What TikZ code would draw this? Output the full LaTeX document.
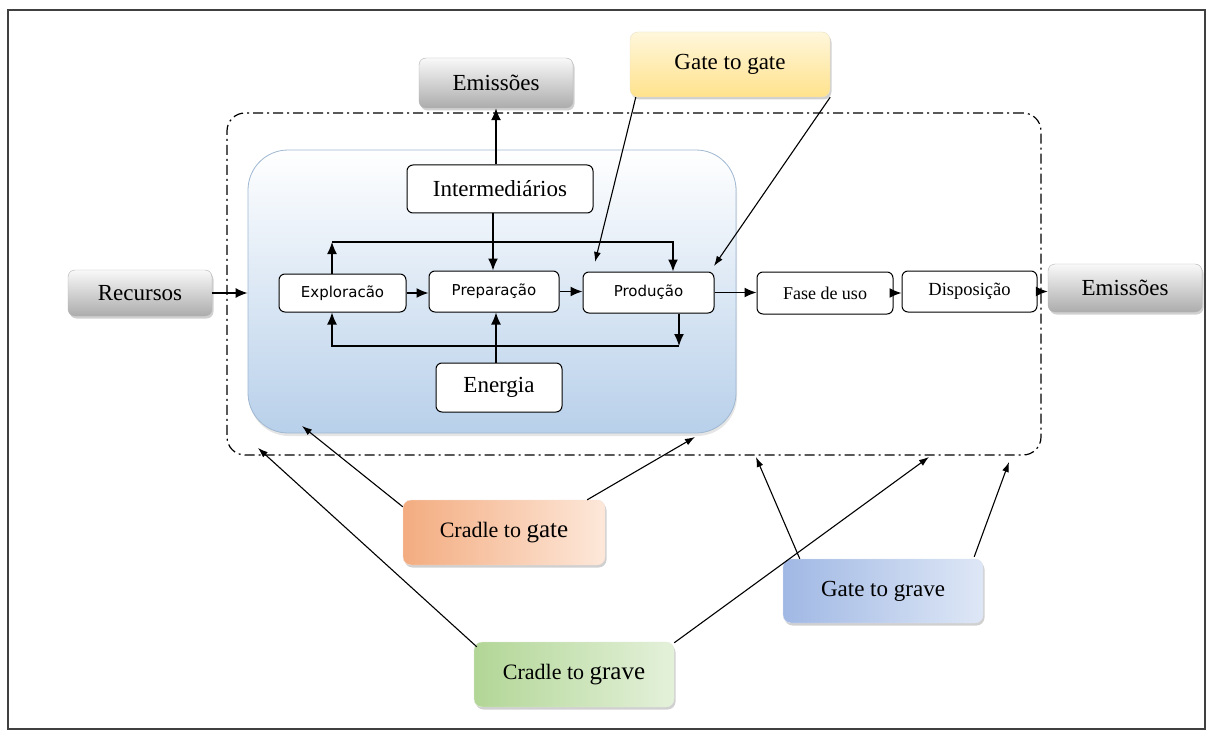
\documentclass[tikz,border=0pt]{standalone}
\usepackage{fontspec}
\setmainfont{Liberation Serif}
\newfontfamily\sansf{DejaVu Sans}
\usetikzlibrary{arrows.meta,shadows,calc}
\definecolor{blueB}{RGB}{184,208,234}
\definecolor{blueEdge}{RGB}{160,184,210}
\definecolor{yelT}{RGB}{255,247,220}
\definecolor{yelB}{RGB}{255,226,140}
\definecolor{oraD}{RGB}{243,172,128}
\definecolor{oraL}{RGB}{253,232,218}
\definecolor{greD}{RGB}{178,214,150}
\definecolor{greL}{RGB}{228,241,218}
\definecolor{bluD}{RGB}{160,184,228}
\definecolor{bluL}{RGB}{222,231,246}
\tikzset{
  big/.style={font=\fontsize{23}{27}\selectfont},
  shad/.style={drop shadow={shadow xshift=1.5pt,shadow yshift=-2.5pt,opacity=0.3,fill=black!60}},
  graybox/.style={draw=gray!60,rounded corners=7pt,top color=gray!5,bottom color=gray!65,shad,big,inner sep=0pt},
  colbox/.style={rounded corners=8pt,shad,big,inner sep=0pt},
  whitebox/.style={draw=black,line width=1pt,rounded corners=6pt,fill=white,inner sep=0pt},
  sbox/.style={whitebox,font=\sansf\fontsize{15}{18}\selectfont},
  conn/.style={line width=1.4pt,-{Latex[length=12pt,width=10pt]}},
  thin/.style={line width=1.1pt,-{Latex[length=10pt,width=7pt]}},
  dashdotbox/.style={line width=1.2pt,dash pattern=on 10pt off 4pt on 2pt off 4pt,rounded corners=18pt}
}
\begin{document}
\begin{tikzpicture}[x=1pt,y=-1pt]
\useasboundingbox (0,0) rectangle (1211,733);
\fill[white] (0,0) rectangle (1211,733);
\draw[line width=1.3pt,black!75] (8,10) rectangle (1205,729);

% system boundary
\node[dashdotbox,draw,minimum width=814pt,minimum height=342pt] (sys) at (634,284) {};
% blue box
\node[draw=blueEdge,line width=0.8pt,rounded corners=40pt,top color=white,bottom color=blueB,
      drop shadow={shadow xshift=1pt,shadow yshift=-3pt,opacity=0.2,fill=black!50},
      minimum width=488pt,minimum height=283pt] (blue) at (492,291.5) {};

% gray boxes
\node[graybox,minimum width=154pt,minimum height=50pt] (emisTop) at (496,83) {Emissões};
\node[graybox,minimum width=144pt,minimum height=46pt] (rec) at (140,293) {Recursos};
\node[graybox,minimum width=154pt,minimum height=48pt] (emisR) at (1125,288) {Emissões};

% coloured boxes
\node[colbox,draw=yelB!80!black!40,top color=yelT,bottom color=yelB,minimum width=200pt,minimum height=65pt] (gg) at (730,64.5) {Gate to gate};
\node[colbox,draw=oraD!90!black!30,left color=oraD,right color=oraL,minimum width=202pt,minimum height=65pt] (cgate) at (504,532.5) {\fontsize{22}{26}\selectfont Cradle to \fontsize{25}{28}\selectfont gate};
\node[colbox,draw=greD!90!black!30,left color=greD,right color=greL,minimum width=200pt,minimum height=65pt] (cgrave) at (574,674.5) {\fontsize{22}{26}\selectfont Cradle to \fontsize{25}{28}\selectfont grave};
\node[colbox,draw=bluD!90!black!30,left color=bluD,right color=bluL,minimum width=200pt,minimum height=64pt] (ggrave) at (883,591) {Gate to grave};

% inner white boxes
\node[whitebox,big,minimum width=186pt,minimum height=48pt] (inter) at (500,189) {Intermediários};
\node[whitebox,big,minimum width=126pt,minimum height=49pt] (ener) at (499,387.5) {Energia};
\node[sbox,minimum width=127pt,minimum height=38pt] (expl) at (342.5,293) {Exploracão};
\node[sbox,minimum width=130pt,minimum height=41pt] (prep) at (494,291.5) {Preparação};
\node[sbox,minimum width=131pt,minimum height=41pt] (prod) at (648.5,292.5) {Produção};
\node[whitebox,font=\fontsize{18}{22}\selectfont,minimum width=136pt,minimum height=42pt] (fase) at (825,293) {Fase de uso};
\node[whitebox,font=\fontsize{18.5}{22}\selectfont,minimum width=135pt,minimum height=41pt] (disp) at (969.5,291.5) {Disposição};

% loop coordinates
\coordinate (tl) at (332,242);
\coordinate (tr) at (673,242);
\coordinate (bl) at (332,346);
\coordinate (br) at (679,346);

% inner connectors
\draw[conn] (inter.north -| emisTop) -- (emisTop.south);
\draw[conn] (inter.south -| 493,0) -- (prep.north -| 493,0);
\draw[conn] (ener.north -| 496,0) -- (prep.south -| 496,0);
\draw[conn] (expl.east) -- (expl.east -| prep.west);
\draw[conn] (prep.east) -- (prep.east -| prod.west);
\draw[conn] (expl.north -| tl) -- (tl);
\draw[conn] (tl) -- (tr) -- (tr |- prod.north);
\draw[conn] (prod.south -| br) -- (br);
\draw[conn] (br) -- (bl) -- (bl |- expl.south);
\draw[conn] (rec.east) -- (rec.east -| blue.west);
\draw[conn] (prod.east) -- (prod.east -| fase.west);
\draw[conn] (fase.east) -- (fase.east -| disp.west);
\draw[conn] (disp.east) -- (disp.east -| emisR.west);

% scope arrows
\coordinate (g1) at (595,262);
\coordinate (g2) at (714,266);
\draw[thin] ([xshift=6pt]gg.south west) -- (g1);
\draw[thin] (gg.south east) -- (g2);

\coordinate (c1) at (302,426);
\coordinate (c2) at (695,437);
\draw[thin] ([yshift=-7pt]cgate.north west) -- (c1);
\draw[thin] ([xshift=-18pt]cgate.north east) -- (c2);

\coordinate (d1) at (258,448);
\coordinate (d2) at (929,457);
\draw[thin] ([xshift=3pt,yshift=-5pt]cgrave.north west) -- (d1);
\draw[thin] ([yshift=-1pt]cgrave.north east) -- (d2);

\coordinate (e1) at (756,457);
\coordinate (e2) at (1009,462);
\draw[thin] ([xshift=17pt]ggrave.north west) -- (e1);
\draw[thin] ([xshift=-9pt,yshift=2pt]ggrave.north east) -- (e2);
\end{tikzpicture}
\end{document}
